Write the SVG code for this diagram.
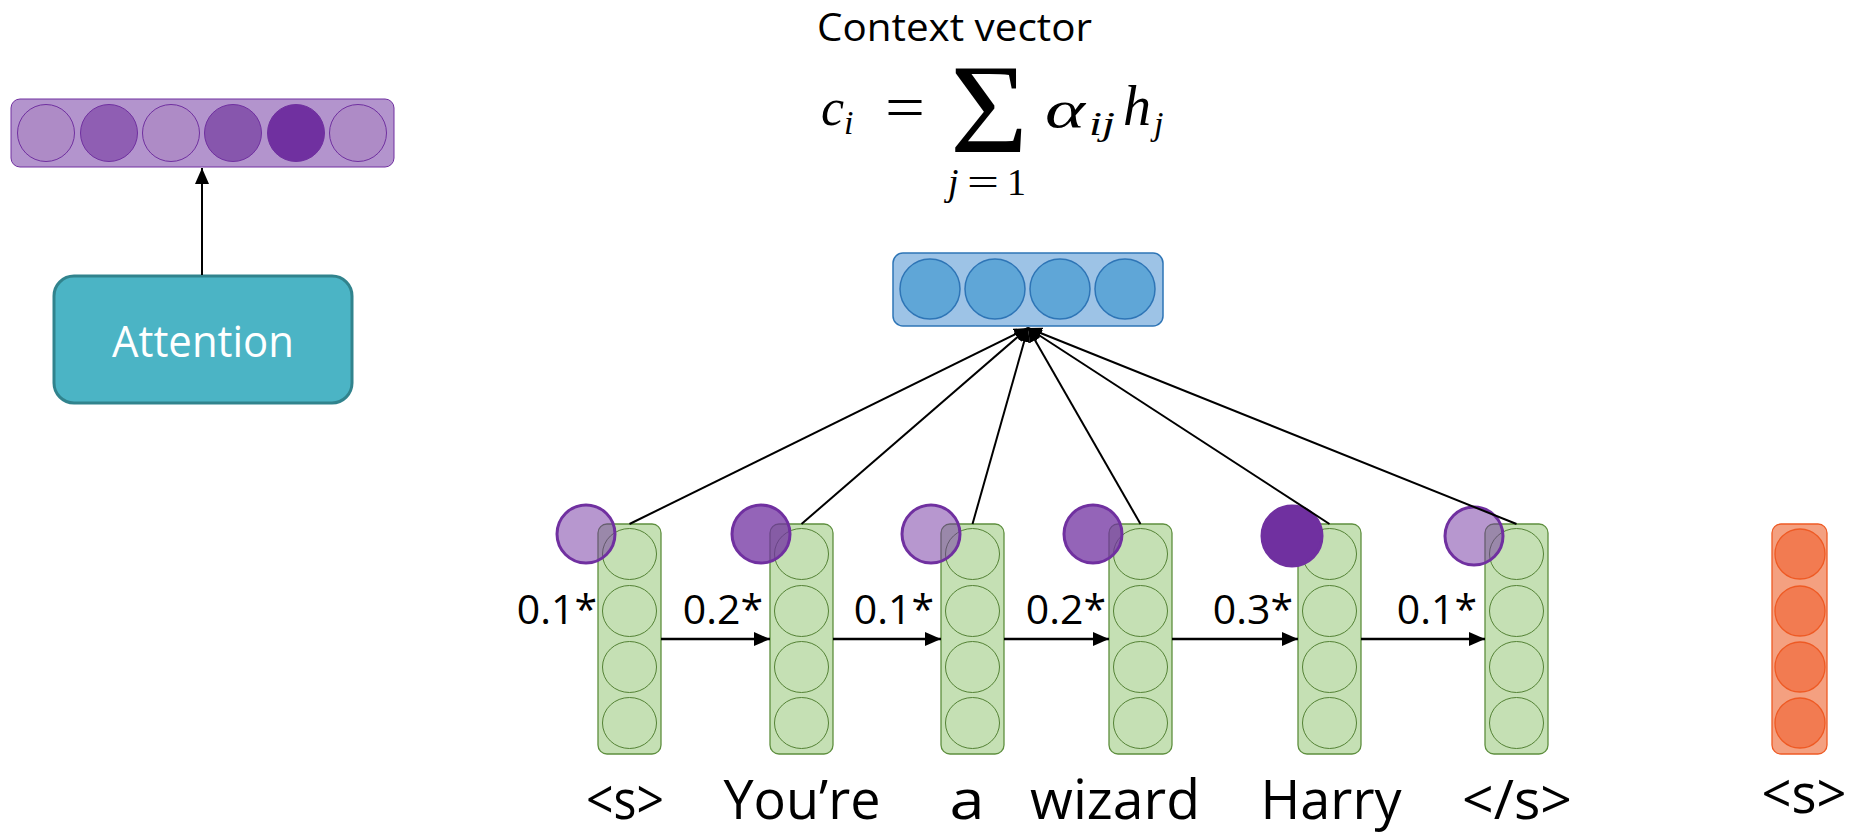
<svg xmlns="http://www.w3.org/2000/svg" width="1853" height="835" viewBox="0 0 1853 835">
<defs>
<style>
.txt{font-family:"Open Sans","Noto Sans","Liberation Sans",sans-serif;fill:#000}
.math{font-family:"Liberation Serif","DejaVu Serif",serif;fill:#000}
.mi{font-style:italic}
.word{font-family:"Open Sans","Noto Sans","Liberation Sans",sans-serif;fill:#000;font-size:54px;text-anchor:middle}
.lab{font-family:"Open Sans","Noto Sans","Liberation Sans",sans-serif;fill:#000;font-size:41px;text-anchor:end}
.gcol{fill:#C5E0B4;stroke:#5E8F3E;stroke-width:1.3}
.gcell{fill:none;stroke:#548235;stroke-width:1}
.wt{fill:#7030A0;stroke:#7030A0;stroke-width:3}
.conn{stroke:#000;stroke-width:2;fill:none}
.rec{stroke:#000;stroke-width:2.5;fill:none}
.pcell{stroke:#7030A0;stroke-width:1}
.bcell{fill:#5FA6D7;stroke:#2E75B6;stroke-width:1.5}
.rcell{fill:#F27B51;stroke:#EE5A24;stroke-width:1.3}
</style>
<marker id="arr" viewBox="0 0 16 14" refX="16" refY="7" markerWidth="16" markerHeight="14" markerUnits="userSpaceOnUse" orient="auto">
<path d="M0,0 L16,7 L0,14 z" fill="#000"/>
</marker>
<marker id="arrs" viewBox="0 0 14 12" refX="14" refY="6" markerWidth="14" markerHeight="12" markerUnits="userSpaceOnUse" orient="auto">
<path d="M0,0 L14,6 L0,12 z" fill="#000"/>
</marker>
</defs>
<rect width="1853" height="835" fill="#fff"/>

<g id="weights-vector">
<rect x="11" y="99" width="383" height="68" rx="9" fill="#B394CD" stroke="#7030A0" stroke-width="1"/>
<circle class="pcell" cx="46" cy="133" r="28.5" fill="#AE8BC6"/>
<circle class="pcell" cx="109" cy="133" r="28.5" fill="#8F5EB3"/>
<circle class="pcell" cx="171" cy="133" r="28.5" fill="#AE8BC6"/>
<circle class="pcell" cx="233" cy="133" r="28.5" fill="#8756AD"/>
<circle class="pcell" cx="296" cy="133" r="28.5" fill="#7030A0"/>
<circle class="pcell" cx="358" cy="133" r="28.5" fill="#AE8BC6"/>
</g>

<g id="attention">
<rect x="54" y="276" width="298" height="127" rx="20" fill="#4BB4C5" stroke="#31838D" stroke-width="3"/>
<text class="txt" x="203" y="357" font-size="44" style="fill:#fff" text-anchor="middle" textLength="182" lengthAdjust="spacingAndGlyphs">Attention</text>
</g>

<g id="formula">
<text class="txt" x="817" y="41" font-size="39" textLength="275" lengthAdjust="spacingAndGlyphs">Context vector</text>
<text class="math mi" x="821" y="125" font-size="52">c<tspan font-size="34" dy="9">i</tspan></text>
<text class="math" x="885" y="128" font-size="62" textLength="40" lengthAdjust="spacingAndGlyphs">=</text>
<text class="math" x="950" y="152" font-size="126" textLength="78" lengthAdjust="spacingAndGlyphs">Σ</text>
<text class="math mi" x="1045" y="127" font-size="52" textLength="40" lengthAdjust="spacingAndGlyphs">α</text>
<text class="math mi" x="1089" y="135" font-size="34" textLength="26" lengthAdjust="spacingAndGlyphs">ij</text>
<text class="math mi" x="1123" y="125" font-size="56">h<tspan font-size="34" dy="10" dx="3">j</tspan></text>
<text class="math mi" x="948" y="195" font-size="38">j</text>
<text class="math" x="967" y="195" font-size="38" textLength="32" lengthAdjust="spacingAndGlyphs">=</text>
<text class="math" x="1007" y="195" font-size="38">1</text>
</g>

<g id="context-vector">
<rect x="893" y="253" width="270" height="73" rx="10" fill="#9DC3E6" stroke="#2E75B6" stroke-width="1.5"/>
<circle class="bcell" cx="930" cy="289" r="30"/>
<circle class="bcell" cx="995" cy="289" r="30"/>
<circle class="bcell" cx="1060" cy="289" r="30"/>
<circle class="bcell" cx="1125" cy="289" r="30"/>
</g>

<g id="h1">
<rect class="gcol" x="598" y="524" width="63" height="230" rx="9"/>
<ellipse class="gcell" cx="629.5" cy="554" rx="27" ry="25.5"/><ellipse class="gcell" cx="629.5" cy="611" rx="27" ry="25.5"/><ellipse class="gcell" cx="629.5" cy="667" rx="27" ry="25.5"/><ellipse class="gcell" cx="629.5" cy="723" rx="27" ry="25.5"/>
<circle class="wt" cx="586" cy="534" r="29" fill-opacity="0.5"/>
<text class="lab" x="597" y="624">0.1*</text>
<text class="word" x="625" y="819" textLength="78" lengthAdjust="spacingAndGlyphs">&lt;s&gt;</text>
</g>
<g id="h2">
<rect class="gcol" x="770" y="524" width="63" height="230" rx="9"/>
<ellipse class="gcell" cx="801.5" cy="554" rx="27" ry="25.5"/><ellipse class="gcell" cx="801.5" cy="611" rx="27" ry="25.5"/><ellipse class="gcell" cx="801.5" cy="667" rx="27" ry="25.5"/><ellipse class="gcell" cx="801.5" cy="723" rx="27" ry="25.5"/>
<circle class="wt" cx="761" cy="534" r="29" fill-opacity="0.75"/>
<text class="lab" x="763" y="624">0.2*</text>
<text class="word" x="802" y="819" textLength="157" lengthAdjust="spacingAndGlyphs">You’re</text>
</g>
<g id="h3">
<rect class="gcol" x="941" y="524" width="63" height="230" rx="9"/>
<ellipse class="gcell" cx="972.5" cy="554" rx="27" ry="25.5"/><ellipse class="gcell" cx="972.5" cy="611" rx="27" ry="25.5"/><ellipse class="gcell" cx="972.5" cy="667" rx="27" ry="25.5"/><ellipse class="gcell" cx="972.5" cy="723" rx="27" ry="25.5"/>
<circle class="wt" cx="931" cy="534" r="29" fill-opacity="0.5"/>
<text class="lab" x="934" y="624">0.1*</text>
<text class="word" x="967" y="819" textLength="35" lengthAdjust="spacingAndGlyphs">a</text>
</g>
<g id="h4">
<rect class="gcol" x="1109" y="524" width="63" height="230" rx="9"/>
<ellipse class="gcell" cx="1140.5" cy="554" rx="27" ry="25.5"/><ellipse class="gcell" cx="1140.5" cy="611" rx="27" ry="25.5"/><ellipse class="gcell" cx="1140.5" cy="667" rx="27" ry="25.5"/><ellipse class="gcell" cx="1140.5" cy="723" rx="27" ry="25.5"/>
<circle class="wt" cx="1093" cy="534" r="29" fill-opacity="0.75"/>
<text class="lab" x="1106" y="624">0.2*</text>
<text class="word" x="1115" y="819" textLength="170" lengthAdjust="spacingAndGlyphs">wizard</text>
</g>
<g id="h5">
<rect class="gcol" x="1298" y="524" width="63" height="230" rx="9"/>
<ellipse class="gcell" cx="1329.5" cy="554" rx="27" ry="25.5"/><ellipse class="gcell" cx="1329.5" cy="611" rx="27" ry="25.5"/><ellipse class="gcell" cx="1329.5" cy="667" rx="27" ry="25.5"/><ellipse class="gcell" cx="1329.5" cy="723" rx="27" ry="25.5"/>
<circle class="wt" cx="1292" cy="536" r="30" fill-opacity="1" stroke-width="1"/>
<text class="lab" x="1293" y="624">0.3*</text>
<text class="word" x="1331" y="819" textLength="141" lengthAdjust="spacingAndGlyphs">Harry</text>
</g>
<g id="h6">
<rect class="gcol" x="1485" y="524" width="63" height="230" rx="9"/>
<ellipse class="gcell" cx="1516.5" cy="554" rx="27" ry="25.5"/><ellipse class="gcell" cx="1516.5" cy="611" rx="27" ry="25.5"/><ellipse class="gcell" cx="1516.5" cy="667" rx="27" ry="25.5"/><ellipse class="gcell" cx="1516.5" cy="723" rx="27" ry="25.5"/>
<circle class="wt" cx="1474" cy="536" r="29" fill-opacity="0.5"/>
<text class="lab" x="1477" y="624">0.1*</text>
<text class="word" x="1517" y="819" textLength="110" lengthAdjust="spacingAndGlyphs">&lt;/s&gt;</text>
</g>

<g id="decoder-start">
<rect x="1772" y="524" width="55" height="230" rx="9" fill="#F4A080" stroke="#EE5A24" stroke-width="1.3"/>
<circle class="rcell" cx="1800" cy="554" r="25"/>
<circle class="rcell" cx="1800" cy="611" r="25"/>
<circle class="rcell" cx="1800" cy="667" r="25"/>
<circle class="rcell" cx="1800" cy="723" r="25"/>
<text class="word" x="1804" y="813" textLength="85" lengthAdjust="spacingAndGlyphs">&lt;s&gt;</text>
</g>

<g id="connectors">
<line class="conn" x1="202" y1="275" x2="202" y2="168" marker-end="url(#arr)"/>
<line class="rec" x1="661" y1="639" x2="770" y2="639" marker-end="url(#arr)"/>
<line class="rec" x1="833" y1="639" x2="941" y2="639" marker-end="url(#arr)"/>
<line class="rec" x1="1004" y1="639" x2="1109" y2="639" marker-end="url(#arr)"/>
<line class="rec" x1="1172" y1="639" x2="1298" y2="639" marker-end="url(#arr)"/>
<line class="rec" x1="1361" y1="639" x2="1485" y2="639" marker-end="url(#arr)"/>
<line class="conn" x1="629.5" y1="524" x2="1028" y2="328" marker-end="url(#arrs)"/>
<line class="conn" x1="801.5" y1="524" x2="1028" y2="328" marker-end="url(#arrs)"/>
<line class="conn" x1="972.5" y1="524" x2="1028" y2="328" marker-end="url(#arrs)"/>
<line class="conn" x1="1140.5" y1="524" x2="1028" y2="328" marker-end="url(#arrs)"/>
<line class="conn" x1="1329.5" y1="524" x2="1028" y2="328" marker-end="url(#arrs)"/>
<line class="conn" x1="1516.5" y1="524" x2="1028" y2="328" marker-end="url(#arrs)"/>
</g>
</svg>
